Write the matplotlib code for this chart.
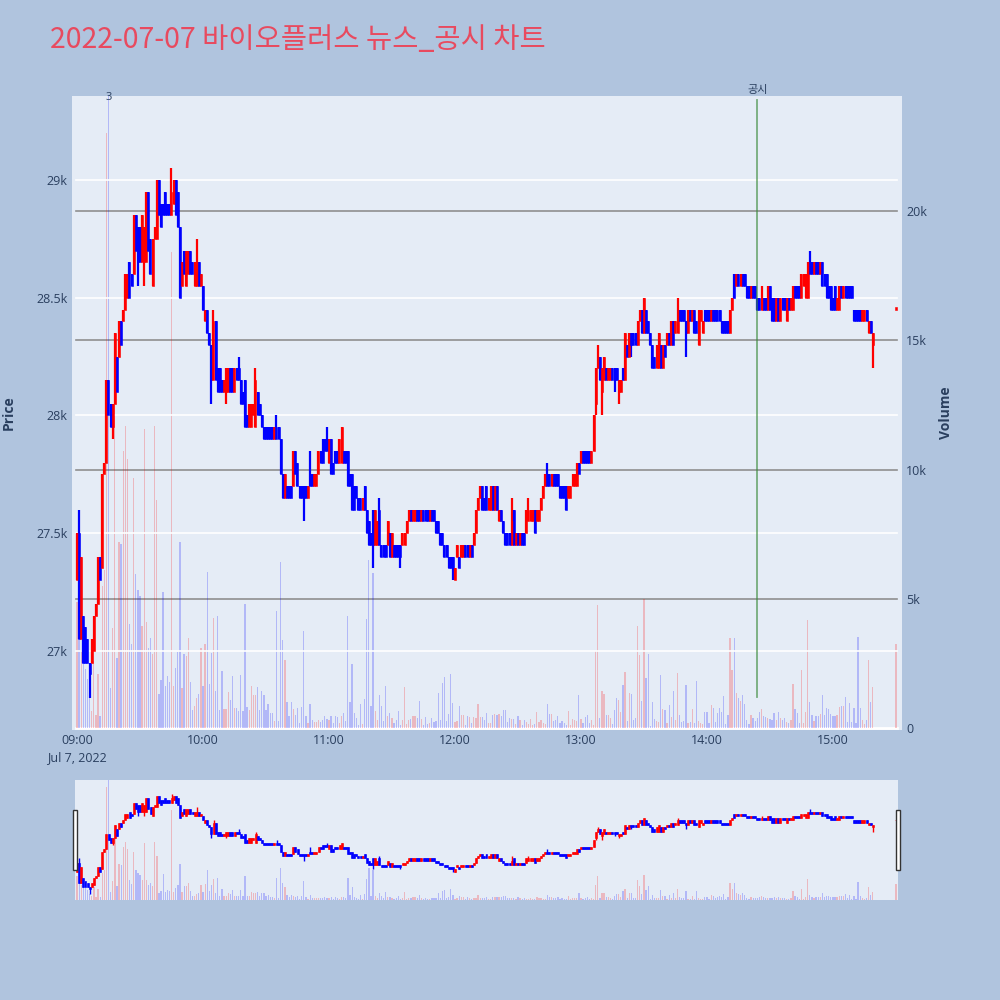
import matplotlib
matplotlib.use("Agg")
import matplotlib.pyplot as plt
from matplotlib.patches import Rectangle
import numpy as np

plt.rcParams['font.family'] = ['Open Sans', 'Noto Sans CJK KR', 'DejaVu Sans']

title = "2022-07-07 바이오플러스 뉴스_공시 차트"
news_label = "공시"
news_minute = 324          # 14:24
big_bar_label = "3"
big_bar_minute = 15

time_ticks = [0, 60, 120, 180, 240, 300, 360]
time_labels = ["09:00", "10:00", "11:00", "12:00", "13:00", "14:00", "15:00"]
date_label = "Jul 7, 2022"
price_ticks = [27000, 27500, 28000, 28500, 29000]
price_labels = ["27k", "27.5k", "28k", "28.5k", "29k"]
vol_ticks = [0, 5000, 10000, 15000, 20000]
vol_labels = ["0", "5k", "10k", "15k", "20k"]

# minutes after 09:00, one candle per minute, plus the 15:30 close
minutes = list(range(380)) + [390]

opens = [
    27300, 27500, 27050, 27150, 27100, 27050, 26950, 26950, 27000, 27150,
    27200, 27400, 27350, 27750, 27800, 28150, 28050, 27950, 28050, 28250,
    28250, 28400, 28400, 28450, 28500, 28650, 28600, 28600, 28850, 28800,
    28800, 28650, 28650, 28650, 28950, 28750, 28550, 28750, 28750, 29000,
    28900, 28900, 28950, 28900, 28900, 28850, 28900, 29000, 28950, 28800,
    28550, 28700, 28550, 28600, 28700, 28650, 28550, 28550, 28650, 28550,
    28550, 28400, 28450, 28350, 28300, 28150, 28400, 28200, 28200, 28150,
    28100, 28100, 28100, 28200, 28200, 28100, 28200, 28200, 28150, 28100,
    28150, 28000, 27950, 27950, 28000, 27950, 28100, 28050, 28000, 27950,
    27950, 27950, 27950, 27950, 27900, 27950, 27950, 27900, 27750, 27650,
    27700, 27700, 27700, 27700, 27850, 27800, 27700, 27700, 27700, 27700,
    27650, 27750, 27750, 27700, 27700, 27750, 27850, 27900, 27900, 27900,
    27800, 27900, 27800, 27850, 27850, 27800, 27800, 27850, 27850, 27850,
    27750, 27750, 27700, 27700, 27650, 27650, 27600, 27700, 27600, 27550,
    27500, 27600, 27450, 27450, 27600, 27450, 27450, 27450, 27450, 27500,
    27400, 27450, 27450, 27450, 27450, 27450, 27450, 27500, 27550, 27600,
    27550, 27550, 27600, 27600, 27550, 27600, 27600, 27600, 27550, 27600,
    27600, 27550, 27550, 27500, 27500, 27450, 27450, 27400, 27400, 27400,
    27300, 27400, 27400, 27400, 27400, 27450, 27450, 27400, 27450, 27450,
    27500, 27600, 27650, 27700, 27650, 27700, 27600, 27600, 27700, 27600,
    27700, 27550, 27600, 27550, 27500, 27500, 27500, 27450, 27600, 27450,
    27500, 27450, 27500, 27500, 27500, 27550, 27550, 27550, 27600, 27550,
    27550, 27600, 27650, 27700, 27750, 27750, 27700, 27750, 27750, 27750,
    27700, 27700, 27700, 27700, 27650, 27650, 27700, 27700, 27700, 27800,
    27800, 27850, 27850, 27850, 27850, 27800, 27850, 28050, 28200, 28250,
    28100, 28150, 28200, 28150, 28150, 28200, 28200, 28200, 28100, 28100,
    28200, 28150, 28300, 28250, 28350, 28350, 28350, 28300, 28400, 28450,
    28350, 28450, 28400, 28350, 28300, 28250, 28200, 28200, 28300, 28200,
    28300, 28300, 28350, 28300, 28400, 28350, 28350, 28450, 28450, 28450,
    28400, 28350, 28450, 28400, 28450, 28400, 28300, 28400, 28350, 28450,
    28450, 28450, 28400, 28450, 28450, 28450, 28450, 28400, 28400, 28400,
    28400, 28350, 28450, 28600, 28550, 28600, 28550, 28600, 28600, 28550,
    28550, 28500, 28550, 28550, 28500, 28500, 28450, 28500, 28500, 28450,
    28550, 28500, 28500, 28400, 28500, 28400, 28500, 28500, 28400, 28500,
    28450, 28450, 28550, 28550, 28550, 28500, 28550, 28500, 28500, 28650,
    28650, 28600, 28650, 28650, 28600, 28650, 28600, 28600, 28550, 28550,
    28500, 28550, 28450, 28450, 28550, 28500, 28550, 28550, 28550, 28550,
    28450, 28450, 28450, 28450, 28400, 28400, 28450, 28350, 28400, 28300,
    28450,
]

closes = [
    27500, 27050, 27400, 26950, 26950, 26950, 26900, 27050, 27150, 27200,
    27400, 27300, 27750, 27800, 28150, 28000, 27950, 28050, 28350, 28100,
    28400, 28300, 28450, 28600, 28600, 28500, 28550, 28850, 28700, 28650,
    28650, 28850, 28800, 28950, 28700, 28600, 28750, 28800, 29000, 28850,
    28800, 28850, 28850, 28850, 28850, 28950, 29000, 28850, 28800, 28500,
    28650, 28600, 28700, 28700, 28600, 28600, 28650, 28650, 28550, 28600,
    28450, 28450, 28350, 28300, 28150, 28400, 28150, 28100, 28100, 28100,
    28150, 28200, 28200, 28100, 28100, 28200, 28150, 28150, 28050, 28050,
    27950, 27950, 28050, 28050, 28050, 28150, 28000, 28000, 27950, 27900,
    27900, 27900, 27900, 27900, 27950, 27900, 27900, 27750, 27650, 27750,
    27650, 27650, 27650, 27850, 27750, 27700, 27650, 27650, 27650, 27650,
    27700, 27700, 27700, 27750, 27750, 27850, 27800, 27800, 27850, 27850,
    27900, 27750, 27750, 27800, 27800, 27900, 27950, 27800, 27800, 27700,
    27700, 27600, 27600, 27650, 27600, 27600, 27650, 27600, 27500, 27450,
    27450, 27450, 27600, 27550, 27450, 27400, 27400, 27400, 27550, 27400,
    27500, 27400, 27400, 27400, 27400, 27500, 27500, 27550, 27600, 27550,
    27600, 27600, 27550, 27550, 27600, 27550, 27550, 27550, 27600, 27550,
    27550, 27500, 27500, 27450, 27450, 27400, 27400, 27350, 27350, 27350,
    27350, 27450, 27350, 27450, 27450, 27400, 27400, 27450, 27400, 27500,
    27600, 27650, 27700, 27600, 27600, 27600, 27650, 27700, 27600, 27700,
    27600, 27600, 27550, 27500, 27450, 27450, 27450, 27550, 27450, 27500,
    27450, 27500, 27450, 27450, 27600, 27600, 27600, 27600, 27500, 27600,
    27600, 27650, 27700, 27750, 27700, 27700, 27750, 27700, 27700, 27700,
    27650, 27650, 27650, 27600, 27700, 27700, 27750, 27750, 27800, 27750,
    27850, 27800, 27800, 27800, 27800, 27850, 28000, 28200, 28250, 28150,
    28200, 28250, 28150, 28200, 28200, 28150, 28150, 28150, 28150, 28150,
    28150, 28350, 28250, 28350, 28300, 28300, 28300, 28400, 28450, 28350,
    28500, 28350, 28350, 28300, 28200, 28200, 28300, 28350, 28200, 28300,
    28250, 28350, 28300, 28400, 28300, 28400, 28450, 28400, 28400, 28400,
    28350, 28450, 28400, 28450, 28350, 28350, 28450, 28450, 28400, 28400,
    28400, 28400, 28450, 28400, 28400, 28400, 28400, 28350, 28350, 28350,
    28350, 28450, 28500, 28500, 28600, 28550, 28600, 28550, 28550, 28500,
    28500, 28550, 28500, 28500, 28450, 28450, 28500, 28450, 28450, 28550,
    28450, 28400, 28400, 28500, 28400, 28500, 28450, 28450, 28500, 28450,
    28500, 28550, 28500, 28500, 28500, 28600, 28600, 28600, 28650, 28600,
    28600, 28650, 28600, 28600, 28650, 28550, 28550, 28500, 28500, 28450,
    28450, 28450, 28500, 28550, 28500, 28550, 28500, 28500, 28500, 28500,
    28400, 28400, 28400, 28400, 28450, 28450, 28400, 28400, 28350, 28350,
    28450,
]

# wicks that reach past the candle body
wick_high = {1: 27600, 45: 29050, 57: 28750, 65: 28450, 77: 28250, 85: 28200,
             95: 28000, 111: 27850, 119: 27950, 144: 27650, 207: 27650,
             215: 27650, 224: 27800, 248: 28300, 286: 28500, 326: 28550,
             349: 28700}
wick_low = {6: 26800, 17: 27900, 29: 28550, 32: 28550, 64: 28050, 71: 28050,
            108: 27550, 141: 27350, 154: 27350, 179: 27300, 247: 28000,
            250: 28000, 256: 28100, 258: 28050, 264: 28250, 290: 28250,
            379: 28200}

volumes = [
    4870, 3420, 3000, 2600, 2300, 1900, 1200, 650, 2600, 500,
    2080, 450, 5500, 6100, 23000, 30000, 1540, 3870, 15280, 2700,
    7200, 7130, 10700, 11700, 10390, 4020, 3250, 9690, 5960, 5340,
    5110, 3950, 11550, 4100, 3090, 3480, 2860, 11700, 8840, 1300,
    1850, 5260, 1620, 2000, 1770, 18400, 1620, 2310, 2940, 7200,
    1540, 2860, 2780, 3480, 1770, 680, 840, 1150, 1300, 3090,
    1620, 3250, 6030, 1720, 2900, 4260, 1420, 4330, 710, 2220,
    740, 740, 1400, 1100, 2030, 790, 780, 650, 2040, 670,
    4780, 800, 710, 1620, 1290, 1290, 1590, 710, 1450, 1290,
    710, 940, 580, 580, 260, 4520, 260, 6420, 3420, 2650,
    1010, 450, 1010, 740, 520, 780, 190, 810, 3750, 450,
    190, 940, 320, 230, 230, 320, 230, 320, 450, 360,
    320, 450, 190, 480, 430, 190, 480, 580, 280, 4350,
    1010, 2490, 580, 390, 100, 930, 170, 1140, 4220, 6500,
    840, 5980, 650, 320, 1290, 840, 260, 1640, 450, 580,
    390, 190, 300, 650, 130, 300, 1580, 170, 320, 350,
    450, 480, 390, 1030, 360, 100, 430, 170, 190, 390,
    230, 260, 1360, 300, 1740, 1980, 260, 560, 2090, 970,
    220, 260, 840, 520, 520, 130, 450, 410, 190, 430,
    390, 940, 430, 430, 300, 580, 190, 190, 520, 560,
    520, 560, 480, 690, 690, 230, 390, 350, 350, 170,
    450, 300, 130, 300, 220, 170, 350, 130, 170, 610,
    230, 320, 190, 170, 940, 560, 560, 260, 300, 450,
    190, 260, 190, 100, 650, 100, 350, 300, 260, 1290,
    350, 190, 410, 490, 190, 300, 130, 2970, 4740, 390,
    1420, 1330, 520, 490, 390, 170, 710, 1150, 1070, 610,
    1680, 2160, 260, 1360, 1330, 320, 370, 3940, 2820, 1050,
    5000, 1940, 2880, 90, 1020, 350, 270, 230, 2040, 750,
    690, 190, 890, 410, 1450, 320, 2130, 520, 230, 260,
    1680, 190, 220, 740, 190, 1810, 260, 190, 170, 610,
    610, 190, 890, 780, 230, 580, 780, 630, 1250, 170,
    520, 3490, 2260, 3490, 1360, 1160, 1030, 1270, 940, 320,
    170, 520, 390, 260, 390, 610, 750, 450, 430, 370,
    350, 300, 580, 320, 620, 400, 320, 370, 220, 190,
    320, 1720, 750, 580, 190, 2260, 190, 620, 4160, 1010,
    490, 280, 480, 480, 560, 1270, 490, 780, 750, 560,
    480, 450, 520, 800, 840, 840, 1200, 230, 970, 220,
    780, 190, 3530, 790, 320, 170, 320, 2650, 1010, 1580,
    3260,
]

x = np.array(minutes)
o = np.array(opens)
c = np.array(closes)
v = np.array(volumes)
hi = np.maximum(o, c)
lo = np.minimum(o, c)
for k, val in wick_high.items():
    hi[minutes.index(k)] = val
for k, val in wick_low.items():
    lo[minutes.index(k)] = val
up = c >= o
cols = np.where(up, "red", "blue")

BG = "#B0C4DE"
PLOT_BG = "#E5ECF6"
TXT = "#2a3f5f"
PRICE_LIM = (26664, 29357)
VOL_LIM = (-77, 24450)


def draw(ax_p, ax_v, body_w, bar_w, wick_lw):
    ax_v.bar(x, v, width=bar_w, color=cols, alpha=0.22, lw=0, zorder=2)
    ax_p.vlines(x, lo, hi, colors=cols, lw=wick_lw, zorder=3)
    h = np.abs(c - o)
    h = np.where(h == 0, 12, h)
    ax_p.bar(x, h, bottom=np.minimum(o, c), width=body_w,
             color=cols, edgecolor=cols, lw=0.4, zorder=4)
    ax_p.set_ylim(*PRICE_LIM)
    ax_v.set_ylim(*VOL_LIM)
    ax_p.set_zorder(ax_v.get_zorder() + 1)
    ax_p.patch.set_visible(False)
    ax_v.patch.set_visible(True)
    ax_v.set_facecolor(PLOT_BG)
    for a in (ax_p, ax_v):
        for s in a.spines.values():
            s.set_visible(False)


fig = plt.figure(figsize=(10, 10), dpi=100, facecolor=BG)

ax = fig.add_axes([0.072, 0.27, 0.83, 0.634])
ax2 = ax.twinx()
draw(ax, ax2, 0.95, 0.6, 1.6)
ax.set_xlim(-2.38, 392.9)

for p in price_ticks:
    ax.axhline(p, xmin=0.005, xmax=0.994, color="white", lw=1.2, zorder=1)
for vt in vol_ticks[1:]:
    ax2.axhline(vt, xmin=0.005, xmax=0.994, color="#8f8f8f", lw=1.2, zorder=1)
ax2.axhline(0, xmin=0.005, xmax=0.994, color="white", lw=2, zorder=1)

ax.set_yticks(price_ticks)
ax.set_yticklabels(price_labels)
ax2.set_yticks(vol_ticks)
ax2.set_yticklabels(vol_labels)
ax.set_xticks(time_ticks)
ax.set_xticklabels(time_labels)
ax.tick_params(axis="both", length=0, labelsize=9, labelcolor=TXT, pad=3)
ax2.tick_params(axis="y", length=0, labelsize=9, labelcolor=TXT, pad=3)
ax.text(0, -0.044, date_label, transform=ax.get_xaxis_transform(),
        ha="center", va="center", fontsize=9, color=TXT)

# news marker
ax.axvline(news_minute, ymin=0.052, ymax=0.994, color="#3a8a3a", alpha=0.65, lw=1.3, zorder=5)
ax.text(news_minute, 1.01, news_label, transform=ax.get_xaxis_transform(),
        ha="center", va="center", fontsize=8, color=TXT,
        family=["Noto Sans CJK KR", "DejaVu Sans"])
# label for the volume bar that runs off the top
ax.text(big_bar_minute, 0.998, big_bar_label, transform=ax.get_xaxis_transform(),
        ha="center", va="center", fontsize=8, color=TXT)

fig.text(0.009, 0.587, "Price", rotation=90, ha="center", va="center",
         fontsize=10, fontweight="bold", color=TXT)
fig.text(0.946, 0.587, "Volume", rotation=90, ha="center", va="center",
         fontsize=10, fontweight="bold", color=TXT)
fig.text(0.05, 0.96, title, ha="left", va="center", fontsize=20.5, color="#E84A5F",
         family=["Noto Sans CJK KR", "DejaVu Sans"])

# range slider
sl = fig.add_axes([0.075, 0.10, 0.823, 0.12])
sl2 = sl.twinx()
draw(sl, sl2, 0.95, 0.6, 1.0)
sl.set_xlim(-1, 391)
for a in (sl, sl2):
    a.set_xticks([])
    a.set_yticks([])
for hx in (0.073, 0.896):
    fig.patches.append(Rectangle((hx, 0.130), 0.004, 0.06, transform=fig.transFigure,
                                 facecolor="white", edgecolor="#333333", lw=1))

fig.savefig("out.png", dpi=100, facecolor=BG)
